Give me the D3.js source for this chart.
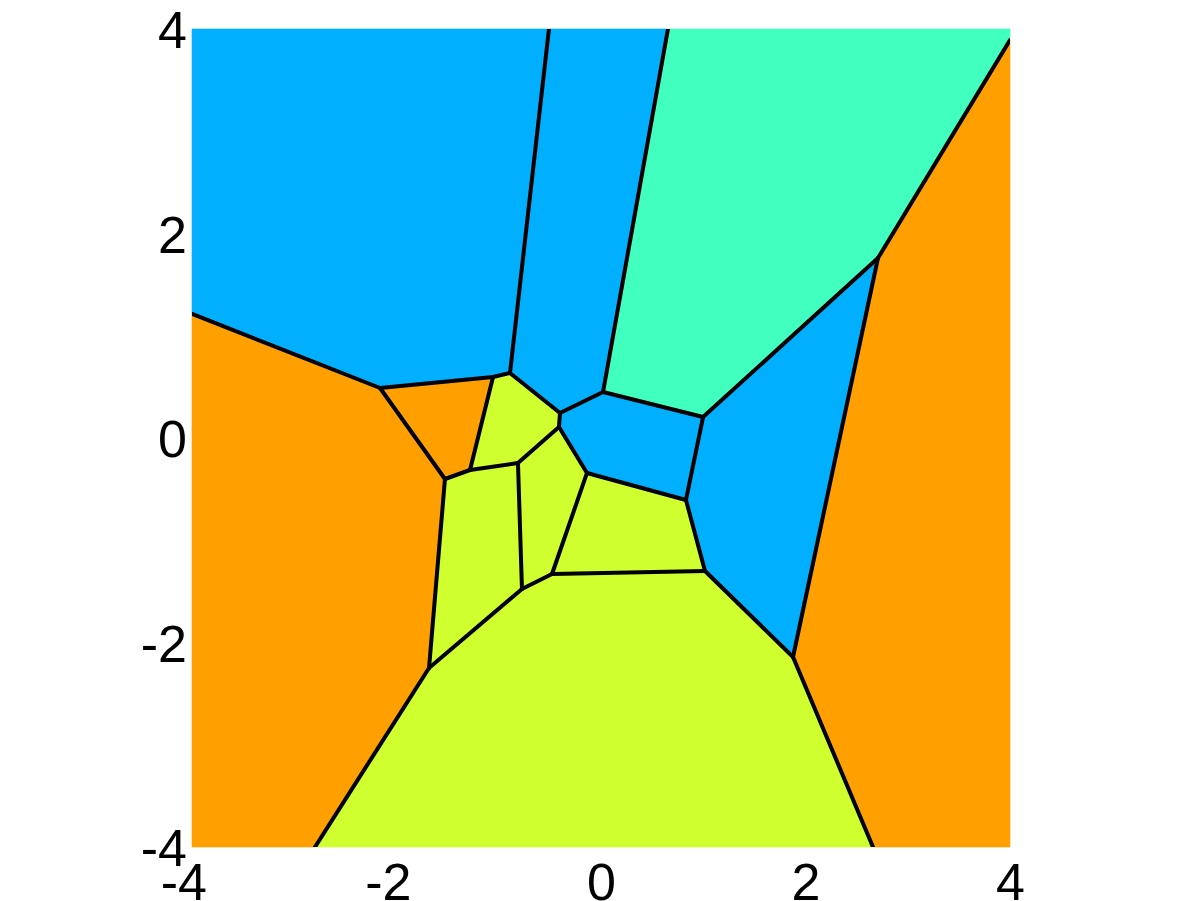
<!DOCTYPE html>
<html>
<head>
<meta charset="utf-8">
<script src="https://cdn.jsdelivr.net/npm/d3@7"></script>
<style>
  body { margin: 0; background: #fff; }
  svg { display: block; }
  .tick text { font-family: "Liberation Sans", Arial, Helvetica, sans-serif; font-size: 52px; fill: #000; }
</style>
</head>
<body>
<div id="chart"></div>
<script>
// ==========================================================
// DATA: Voronoi vertices (data units) and the cells built on them
// ==========================================================

var vertexIds = ["TL", "TR", "BR", "BL", "W", "A", "X", "B", "C", "D", "E", "F", "O", "G", "H", "I",
                 "J", "K", "L", "M", "N", "V", "U", "P", "Q", "R", "S", "T"];
var vertexX = [-4, 4, 4, -4, -4, -2.161, -1.056, -0.890, -0.509, 0.655, 0.020, -0.401, -0.411, 0.998, 2.709, 4,
               1.878, 2.660, 1.017, 0.831, -0.137, -0.479, -0.773, -0.812, -1.281, -1.526, -1.682, -2.797];
var vertexY = [4, 4, -4, -4, 1.213, 0.489, 0.597, 0.636, 4, 4, 0.450, 0.245, 0.108, 0.205, 1.760, 3.892,
               -2.142, -4, -1.301, -0.606, -0.342, -1.330, -1.477, -0.245, -0.313, -0.401, -2.249, -4];

var cells = [
  ["TL", "C", "B", "X", "A", "W"],
  ["C", "D", "E", "F", "B"],
  ["D", "TR", "I", "H", "G", "E"],
  ["I", "BR", "K", "J", "H"],
  ["G", "H", "J", "L", "M"],
  ["E", "G", "M", "N", "O", "F"],
  ["T", "K", "J", "L", "V", "U", "S"],
  ["N", "M", "L", "V"],
  ["O", "N", "V", "U", "P"],
  ["X", "B", "F", "O", "P", "Q"],
  ["Q", "P", "U", "S", "R"],
  ["A", "X", "Q", "R"],
  ["W", "A", "R", "S", "T", "BL"]
];
var cellColors = ["#00b0ff", "#00b0ff", "#40ffbf", "#ffa000", "#00b0ff", "#00b0ff", "#d0ff30",
                  "#d0ff30", "#d0ff30", "#d0ff30", "#d0ff30", "#ffa000", "#ffa000"];

var tickValues = [-4, -2, 0, 2, 4];

// ==========================================================
// SVG AND SCALES
// ==========================================================

var svgWidth = 1201;
var svgHeight = 901;
var margin = { top: 29, right: 191, bottom: 54, left: 192 };
var width = svgWidth - margin.left - margin.right;
var height = svgHeight - margin.top - margin.bottom;

var svg = d3.select("#chart").append("svg").attr("width", svgWidth).attr("height", svgHeight);
var chartGroup = svg.append("g").attr("transform", `translate(${margin.left}, ${margin.top})`);

var xScale = d3.scaleLinear().domain([-4, 4]).range([0, width]);
var yScale = d3.scaleLinear().domain([-4, 4]).range([height, 0]);

var lookup = {};
vertexIds.forEach((id, i) => lookup[id] = [vertexX[i], vertexY[i]]);

var toPx = id => [xScale(lookup[id][0]), yScale(lookup[id][1])];

// ==========================================================
// CELLS
// ==========================================================

chartGroup.selectAll("path.cell")
  .data(cells)
  .enter()
  .append("path")
  .classed("cell", true)
  .attr("d", d => "M" + d.map(id => toPx(id).join(",")).join("L") + "Z")
  .attr("fill", (d, i) => cellColors[i])
  .attr("stroke", (d, i) => cellColors[i])
  .attr("stroke-width", 0.6);

// edges = every cell side that does not lie on the plot border
var onBorder = (p, q) => (p[0] === q[0] && Math.abs(p[0]) === 4) || (p[1] === q[1] && Math.abs(p[1]) === 4);
var seen = {};
var edges = [];
cells.forEach(c => {
  c.forEach((id, i) => {
    var next = c[(i + 1) % c.length];
    var key = [id, next].sort().join("-");
    if (seen[key] || onBorder(lookup[id], lookup[next])) return;
    seen[key] = true;
    edges.push([id, next]);
  });
});

chartGroup.append("g")
  .attr("clip-path", "url(#plotClip)")
  .selectAll("line")
  .data(edges)
  .enter()
  .append("line")
  .attr("x1", d => toPx(d[0])[0])
  .attr("y1", d => toPx(d[0])[1])
  .attr("x2", d => toPx(d[1])[0])
  .attr("y2", d => toPx(d[1])[1])
  .attr("stroke", "#000")
  .attr("stroke-width", 4)
  .attr("stroke-linecap", "round");

svg.append("defs").append("clipPath").attr("id", "plotClip")
  .append("rect").attr("x", 0).attr("y", 0).attr("width", width).attr("height", height);

// ==========================================================
// AXES (labels only)
// ==========================================================

var xAxis = chartGroup.append("g")
  .attr("transform", `translate(0, ${height})`)
  .call(d3.axisBottom(xScale).tickValues(tickValues).tickSize(0).tickFormat(d3.format("d")));
xAxis.select(".domain").remove();
xAxis.selectAll("text")
  .attr("y", 53)
  .attr("dy", null)
  .attr("dx", 14.5)
  .attr("text-anchor", "end");

var yAxis = chartGroup.append("g")
  .call(d3.axisLeft(yScale).tickValues(tickValues).tickSize(0).tickFormat(d3.format("d")));
yAxis.select(".domain").remove();
yAxis.selectAll("text")
  .attr("x", -5)
  .attr("dy", "0.36em")
  .attr("text-anchor", "end");

// fonts: d3 axis sets font on the group, override it
svg.selectAll("g").attr("font-family", null).attr("font-size", null);
// minus sign as plain hyphen, like the reference
svg.selectAll(".tick text").text(d => String(d));
</script>
</body>
</html>
